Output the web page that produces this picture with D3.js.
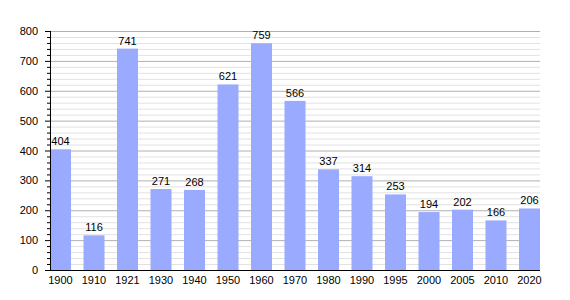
<!DOCTYPE html>
<html>
<head>
<meta charset="utf-8">
<script src="https://cdn.jsdelivr.net/npm/d3@7"></script>
<style>
  body { margin: 0; background: #fff; }
  text { font-family: "Liberation Sans", Arial, sans-serif; font-size: 11px; fill: #000; }
</style>
</head>
<body>
<div id="chart"></div>
<script>
const years = ["1900", "1910", "1921", "1930", "1940", "1950", "1960", "1970", "1980", "1990", "1995", "2000", "2005", "2010", "2020"];
const population = [404, 116, 741, 271, 268, 621, 759, 566, 337, 314, 253, 194, 202, 166, 206];
const yTicks = [0, 100, 200, 300, 400, 500, 600, 700, 800];

const width = 570, height = 300;
const plotLeft = 50, plotRight = 540, plotTop = 31, plotBottom = 270;

const svg = d3.select("#chart").append("svg")
    .attr("width", width)
    .attr("height", height);

const x = d3.scaleBand()
    .domain(years)
    .range([plotLeft, plotRight])
    .paddingInner(0.373)
    .paddingOuter(0)
    .align(0);

const y = d3.scaleLinear()
    .domain([0, 800])
    .range([plotBottom, plotTop]);

// minor grid every 20
const minor = d3.range(0, 801, 20).filter(v => v % 100 !== 0);
svg.append("g")
    .selectAll("line")
    .data(minor)
    .join("line")
    .attr("x1", plotLeft).attr("x2", plotRight)
    .attr("y1", d => y(d) + 0.5).attr("y2", d => y(d) + 0.5)
    .style("stroke", "#e2e2e2");

// major grid
svg.append("g")
    .selectAll("line")
    .data(yTicks.filter(v => v > 0))
    .join("line")
    .attr("x1", plotLeft).attr("x2", plotRight)
    .attr("y1", d => y(d) + 0.5).attr("y2", d => y(d) + 0.5)
    .style("stroke", "#b0b0b0");

// bars
svg.append("g")
    .selectAll("rect")
    .data(population)
    .join("rect")
    .attr("x", (d, i) => x(years[i]))
    .attr("width", x.bandwidth())
    .attr("y", d => y(d))
    .attr("height", d => y(0) - y(d))
    .attr("fill", "#99aaff");

// value labels
svg.append("g")
    .selectAll("text")
    .data(population)
    .join("text")
    .attr("x", (d, i) => x(years[i]) + x.bandwidth() / 2)
    .attr("y", d => y(d) - 4)
    .attr("text-anchor", "middle")
    .text(d => d);

// y axis ticks
svg.append("g")
    .selectAll("line")
    .data(d3.range(0, 801, 20))
    .join("line")
    .attr("x1", d => d % 100 === 0 ? plotLeft - 5 : plotLeft - 3)
    .attr("x2", plotLeft)
    .attr("y1", d => y(d) + 0.5).attr("y2", d => y(d) + 0.5)
    .style("stroke", "#000");

// y axis labels
svg.append("g")
    .selectAll("text")
    .data(yTicks)
    .join("text")
    .attr("x", plotLeft - 12)
    .attr("y", d => y(d) + 4)
    .attr("text-anchor", "end")
    .text(d => d);

// axis lines
svg.append("line")
    .attr("x1", plotLeft + 0.5).attr("x2", plotLeft + 0.5)
    .attr("y1", plotTop).attr("y2", plotBottom)
    .style("stroke", "#000");
svg.append("line")
    .attr("x1", plotLeft).attr("x2", plotRight)
    .attr("y1", plotBottom + 0.5).attr("y2", plotBottom + 0.5)
    .style("stroke", "#000");

// x labels
svg.append("g")
    .selectAll("text")
    .data(years)
    .join("text")
    .attr("x", d => x(d) + x.bandwidth() / 2)
    .attr("y", plotBottom + 14)
    .attr("text-anchor", "middle")
    .text(d => d);
</script>
</body>
</html>
